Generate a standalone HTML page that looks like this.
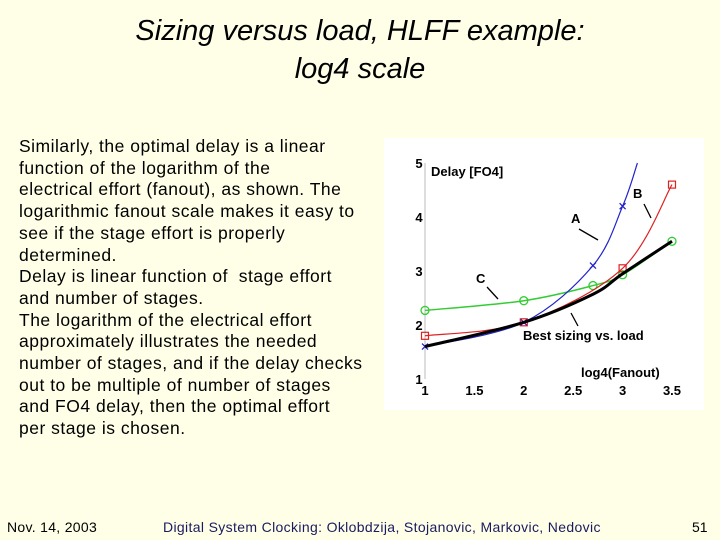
<!DOCTYPE html>
<html><head><meta charset="utf-8"><style>
body{margin:0;width:720px;height:540px;background:#ffffe8;font-family:"Liberation Sans",sans-serif;position:relative;overflow:hidden}
.t{position:absolute;left:0;width:720px;text-align:center;font-style:italic;font-size:29px;line-height:38px;color:#000}
.body{position:absolute;left:19px;top:136px;width:370px;font-size:17.5px;line-height:21.7px;color:#000;white-space:nowrap;letter-spacing:0.5px}
.f{position:absolute;top:519px;font-size:14px;color:#000}
</style></head><body>
<div class="t" style="top:12px">Sizing versus load, HLFF example:<br>log4 scale</div>
<div class="body">Similarly, the optimal delay is a linear<br>function of the logarithm of the<br>electrical effort (fanout), as shown. The<br>logarithmic fanout scale makes it easy to<br>see if the stage effort is properly<br>determined.<br>Delay is linear function of &nbsp;stage effort<br>and number of stages.<br>The logarithm of the electrical effort<br>approximately illustrates the needed<br>number of stages, and if the delay checks<br>out to be multiple of number of stages<br>and FO4 delay, then the optimal effort<br>per stage is chosen.</div>
<svg id="c" style="position:absolute;left:0;top:0" width="720" height="540"></svg>
<div class="f" style="left:7px;letter-spacing:0.3px">Nov. 14, 2003</div>
<div class="f" style="left:163px;color:#1a1a60;letter-spacing:0.35px">Digital System Clocking: Oklobdzija, Stojanovic, Markovic, Nedovic</div>
<div class="f" style="left:692px">51</div>
<script>
const xTicks=[1,1.5,2,2.5,3,3.5];
const yTicks=[1,2,3,4,5];
const aX=[1,2,2.7,3,3.15], aY=[1.6,2.05,3.1,4.2,5.0];
const bX=[1,2,3,3.5], bY=[1.8,2.05,3.05,4.6];
const cX=[1,2,2.7,3,3.5], cY=[2.27,2.45,2.73,2.93,3.55];
const kX=[1,2,2.7,3,3.5], kY=[1.6,2.05,2.57,2.95,3.55];
const NS="http://www.w3.org/2000/svg",svg=document.getElementById('c');
const X=v=>425+(v-1)*98.8, Y=v=>379-(v-1)*54;
function mk(t,a,p){const e=document.createElementNS(NS,t);for(const k in a)e.setAttribute(k,a[k]);(p||svg).appendChild(e);return e;}
const bg=mk('rect',{x:384,y:138,width:320,height:272,fill:'#fff'});


const ax=mk('line',{x1:X(1),y1:Y(5),x2:X(1),y2:Y(1),stroke:'#bbb'});


xTicks.forEach(v=>{const t=mk('text',{x:X(v),y:395,'text-anchor':'middle','font-size':13,'font-weight':'bold'});t.textContent=v;

});
yTicks.forEach(v=>{const t=mk('text',{x:419,y:Y(v)+5,'text-anchor':'middle','font-size':13,'font-weight':'bold'});t.textContent=v;

});
function path(xs,ys){const P=xs.map((x,i)=>[X(x),Y(ys[i])]);let d='M'+P[0][0]+','+P[0][1];
 for(let i=0;i<P.length-1;i++){const p0=P[Math.max(0,i-1)],p1=P[i],p2=P[i+1],p3=P[Math.min(P.length-1,i+2)];
 d+=' C'+(p1[0]+(p2[0]-p0[0])/6)+','+(p1[1]+(p2[1]-p0[1])/6)+' '+(p2[0]-(p3[0]-p1[0])/6)+','+(p2[1]-(p3[1]-p1[1])/6)+' '+p2[0]+','+p2[1];}
 return d;}
function series(xs,ys,col,w,marker,name){
 const p=mk('path',{d:path(xs,ys),fill:'none',stroke:col,'stroke-width':w});
 
 
 xs.forEach((x,i)=>{if(marker==='none'||(name==='series-a'&&i===xs.length-1))return;const cx=X(x),cy=Y(ys[i]);let m;
  if(marker==='o')m=mk('circle',{cx,cy,r:4,fill:'none',stroke:col,'stroke-width':1.3});
  else if(marker==='s')m=mk('rect',{x:cx-3.5,y:cy-3.5,width:7,height:7,fill:'none',stroke:col,'stroke-width':1.2});
  else m=mk('path',{d:`M${cx-3},${cy-3}L${cx+3},${cy+3}M${cx+3},${cy-3}L${cx-3},${cy+3}`,stroke:col,'stroke-width':1.3});
  
  });
}
series(cX,cY,'#3c3',1.5,'o','series-c');
series(bX,bY,'#d22',1.2,'s','series-b');
series(aX,aY,'#22c',1.2,'x','series-a');
series(kX,kY,'#000',3,'none','best-sizing');
function lab(x,y,s,n){const t=mk('text',{x,y,'font-size':13,'font-weight':'bold'});t.textContent=s;

}
lab(431,176,'Delay [FO4]','y-axis-title');lab(581,377,'log4(Fanout)','x-axis-title');
lab(571,223,'A','label-a');lab(633,198,'B','label-b');lab(476,283,'C','label-c');lab(523,340,'Best sizing vs. load','label-best');
[[579,229,598,240],[644,204,651,218],[487,287,498,299],[571,313,578,326]].forEach(a=>{const l=mk('line',{x1:a[0],y1:a[1],x2:a[2],y2:a[3],stroke:'#000','stroke-width':1.3});

});
</script>
</body></html>
